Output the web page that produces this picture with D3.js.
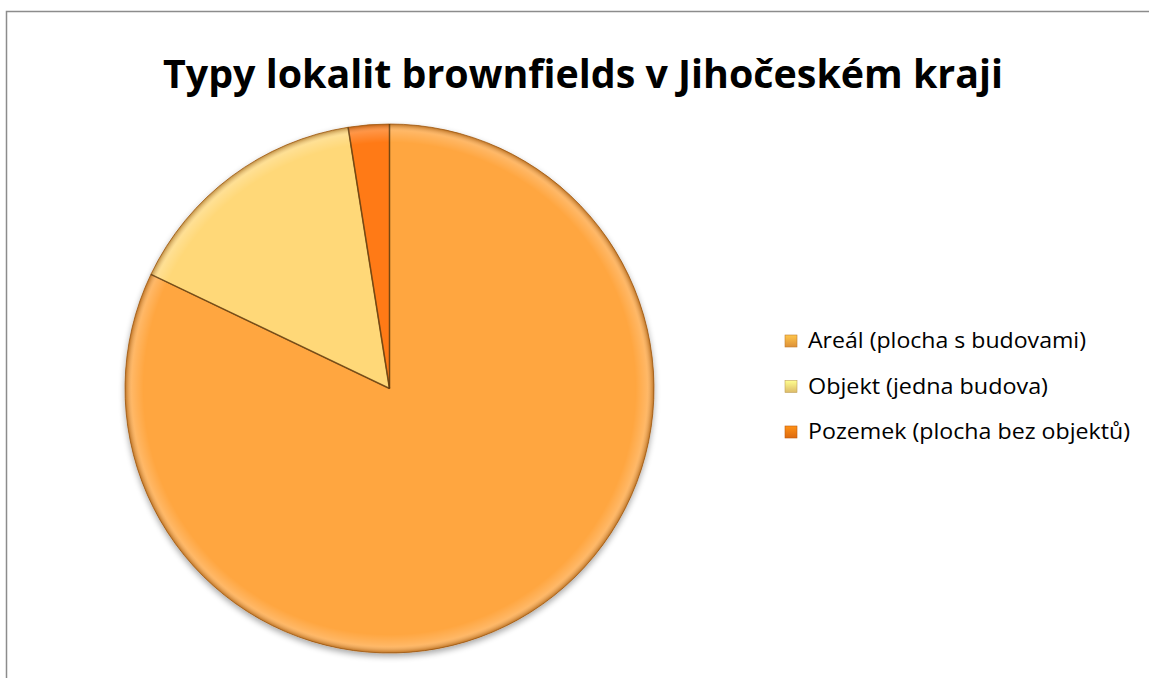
<!DOCTYPE html>
<html>
<head>
<meta charset="utf-8">
<script src="https://cdn.jsdelivr.net/npm/d3@7"></script>
<style>
  body { margin: 0; background: #fff; }
  svg { display: block; }
</style>
</head>
<body>
<svg id="chart" width="1149" height="678"></svg>
<script>
const categories = ["Areál (plocha s budovami)", "Objekt (jedna budova)", "Pozemek (plocha bez objektů)"];
const values = [82.1, 15.4, 2.5];
const colors = ["#FFA63F", "#FFD878", "#FF7A12"];
const legendWidths = [278, 240, 322];
const title = "Typy lokalit brownfields v Jihočeském kraji";

const W = 1149, H = 678;
const svg = d3.select("#chart");
const defs = svg.append("defs");

// chart frame
svg.append("rect")
  .attr("x", 6.5).attr("y", 11.5)
  .attr("width", W + 10).attr("height", H + 10)
  .attr("fill", "#fff").attr("stroke", "#8c8c8c").attr("stroke-width", 1.5);

// title
svg.append("text")
  .attr("x", 583).attr("y", 88)
  .attr("text-anchor", "middle")
  .attr("textLength", 840).attr("lengthAdjust", "spacingAndGlyphs")
  .style("font-family", "'Open Sans', 'DejaVu Sans', sans-serif")
  .style("font-weight", 700).style("font-size", "40px")
  .style("fill", "#000")
  .text(title);

const cx = 389.5, cy = 388.5, r = 264.5;

// shadow filter
const sh = defs.append("filter").attr("id", "shadow")
  .attr("x", "-10%").attr("y", "-10%").attr("width", "120%").attr("height", "125%");
sh.append("feGaussianBlur").attr("in", "SourceAlpha").attr("stdDeviation", 3);
sh.append("feOffset").attr("dx", 0).attr("dy", 3).attr("result", "b");
sh.append("feComponentTransfer").append("feFuncA").attr("type", "linear").attr("slope", 0.35);
const m = sh.append("feMerge");
m.append("feMergeNode");
m.append("feMergeNode").attr("in", "SourceGraphic");

// rim bevel gradient, in pie coordinates
const rg = defs.append("radialGradient").attr("id", "rim")
  .attr("gradientUnits", "userSpaceOnUse")
  .attr("cx", 0).attr("cy", 0).attr("r", r);
rg.append("stop").attr("offset", "0.93").attr("stop-color", "#fff").attr("stop-opacity", 0);
rg.append("stop").attr("offset", "0.975").attr("stop-color", "#fff").attr("stop-opacity", 0.2);
rg.append("stop").attr("offset", "1").attr("stop-color", "#7a3c00").attr("stop-opacity", 0.5);

const pie = d3.pie().sort(null).value(d => d)(values);
const arc = d3.arc().innerRadius(0).outerRadius(r);

const g = svg.append("g").attr("transform", `translate(${cx},${cy})`);
const slices = g.append("g").attr("filter", "url(#shadow)");
slices.selectAll("path.slice").data(pie).join("path")
  .attr("class", "slice")
  .attr("d", arc)
  .attr("fill", (d, i) => colors[i])
  .attr("stroke", "#a8621a").attr("stroke-width", 0.8);

// bevel overlay
g.selectAll("path.bevel").data(pie).join("path")
  .attr("class", "bevel")
  .attr("d", arc)
  .attr("fill", "url(#rim)")
  .attr("pointer-events", "none");

// dark separator lines
g.selectAll("line.sep").data(pie).join("line")
  .attr("class", "sep")
  .attr("x1", 0).attr("y1", 0)
  .attr("x2", d => r * Math.sin(d.startAngle))
  .attr("y2", d => -r * Math.cos(d.startAngle))
  .attr("stroke", "#5a3a10").attr("stroke-opacity", 0.7).attr("stroke-width", 1.6);

// legend
const lg = svg.append("g").attr("transform", "translate(785,341)");
const rowH = 45.5;
categories.forEach((c, i) => {
  const row = lg.append("g").attr("transform", `translate(0,${i * rowH})`);
  const gid = "lg" + i;
  const grad = defs.append("linearGradient").attr("id", gid)
    .attr("x1", 0).attr("y1", 0).attr("x2", 0).attr("y2", 1);
  grad.append("stop").attr("offset", 0).attr("stop-color", d3.color(colors[i]).brighter(0.5));
  grad.append("stop").attr("offset", 1).attr("stop-color", d3.color(colors[i]).darker(0.4));
  row.append("rect").attr("x", 0).attr("y", -6).attr("width", 12).attr("height", 12)
    .attr("fill", `url(#${gid})`).attr("stroke", d3.color(colors[i]).darker(0.8)).attr("stroke-width", 0.6);
  row.append("text")
    .attr("x", 23).attr("y", 0).attr("dy", "0.35em")
    .attr("textLength", legendWidths[i]).attr("lengthAdjust", "spacingAndGlyphs")
    .style("font-family", "'Open Sans', 'DejaVu Sans', sans-serif")
    .style("font-size", "21px").style("fill", "#000")
    .text(c);
});
</script>
</body>
</html>
